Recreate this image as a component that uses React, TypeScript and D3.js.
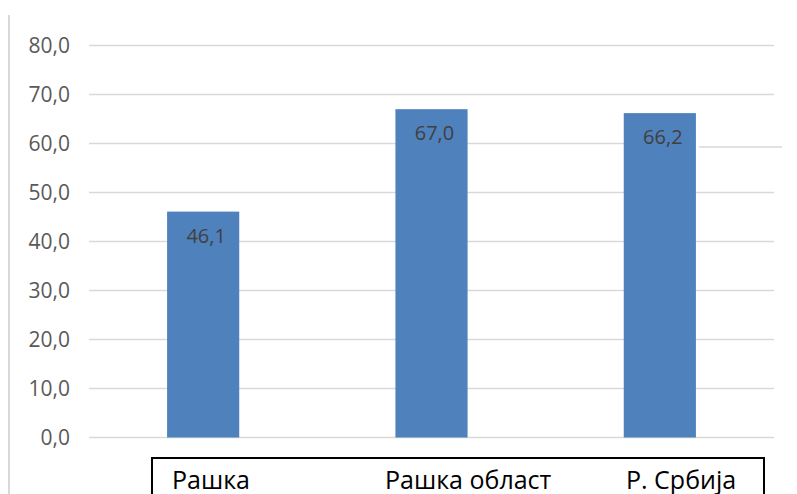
import React from "react";
import * as d3 from "d3";

const categories = ["Рашка", "Рашка област", "Р. Србија"];
const values = [46.1, 67.0, 66.2];
const tickValues = [0, 10, 20, 30, 40, 50, 60, 70, 80];

const W = 797;
const H = 494;
const fmt = (v: number) => v.toFixed(1).replace(".", ",");

export default function App() {
  const x = d3.scaleBand<string>().domain(categories).range([89, 774]).padding(0);
  const y = d3.scaleLinear().domain([0, 80]).range([437.5, 45.5]);
  const bw = x.bandwidth() * 0.316;
  const barX = (c: string) => (x(c) as number) + x.bandwidth() / 2 - bw / 2;
  const lastCat = categories[categories.length - 1];
  // category label left positions inside the bottom box (layout)
  const labelX = [172, 385, 626];

  return (
    <svg
      width={W}
      height={H}
      style={{ position: "absolute", left: 0, top: 0, background: "#fff" }}
      fontFamily="'Open Sans', sans-serif"
    >
      <line x1={9} x2={9} y1={15} y2={H} stroke="#d9d9d9" strokeWidth={2} />
      {tickValues.map((t) =>
        t === 60 ? (
          <g key={t}>
            <line x1={89} x2={barX(lastCat) + bw} y1={y(t)} y2={y(t)} stroke="#d9d9d9" strokeWidth={1.5} />
            <line x1={barX(lastCat) + bw + 3} x2={782} y1={y(t) + 3.5} y2={y(t) + 3.5} stroke="#d9d9d9" strokeWidth={1.5} />
          </g>
        ) : (
          <line key={t} x1={89} x2={774} y1={y(t)} y2={y(t)} stroke="#d9d9d9" strokeWidth={1.5} />
        )
      )}
      {tickValues.map((t) => (
        <text key={"l" + t} x={70} y={y(t) + 7.5} textAnchor="end" fontSize={21} fill="#595959">
          {fmt(t)}
        </text>
      ))}
      {categories.map((c, i) => (
        <g key={c}>
          <rect x={barX(c)} y={y(values[i])} width={bw} height={y(0) - y(values[i])} fill="#4f81bd" />
          <text
            x={barX(c) + bw / 2 + 3}
            y={y(values[i]) + 31}
            textAnchor="middle"
            fontSize={20}
            fill="#404040"
          >
            {fmt(values[i])}
          </text>
        </g>
      ))}
      <rect x={152} y={458} width={612} height={60} fill="none" stroke="#000" strokeWidth={2} />
      {categories.map((c, i) => (
        <text key={"c" + c} x={labelX[i]} y={489} fontSize={25} fill="#000">
          {c}
        </text>
      ))}
    </svg>
  );
}
